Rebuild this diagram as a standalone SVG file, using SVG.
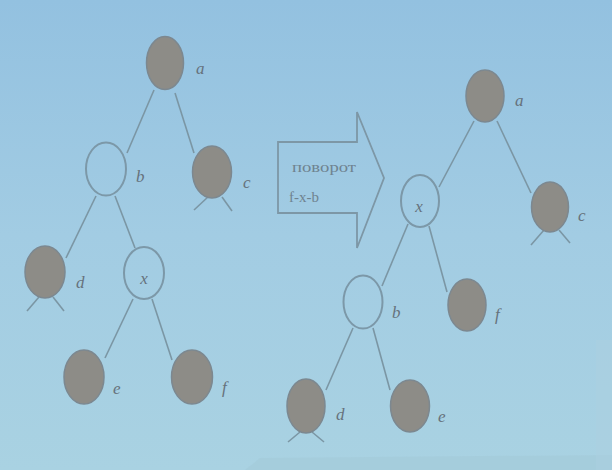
<svg xmlns="http://www.w3.org/2000/svg" width="612" height="470" viewBox="0 0 612 470">
<defs>
<linearGradient id="bg" x1="0" y1="0" x2="0" y2="1">
<stop offset="0" stop-color="#93c1e0"/>
<stop offset="0.5" stop-color="#a2cce3"/>
<stop offset="1" stop-color="#a9d2e2"/>
</linearGradient>
<style>
.fill{fill:#8d8c87;stroke:#7c8890;stroke-width:1.5}
.hollow{fill:none;stroke:#7c98a8;stroke-width:2}
.edge{stroke:#7b96a4;stroke-width:1.6;fill:none}
.lbl{font-family:"Liberation Serif",serif;font-style:italic;font-size:17px;fill:#66727c}
.arr{fill:none;stroke:#7d97a6;stroke-width:1.8}
.at{font-family:"Liberation Serif",serif;font-size:15px;fill:#6f8390}
</style>
</defs>
<rect width="612" height="470" fill="url(#bg)"/>
<polygon points="260,458 612,455 612,470 245,470" fill="#a3c9d9" opacity="0.6"/>
<rect x="596" y="340" width="16" height="130" fill="#acd0df" opacity="0.5"/>
<g id="connectors">
<line class="edge" x1="154" y1="90" x2="127" y2="153"/>
<line class="edge" x1="175" y1="93" x2="194" y2="153"/>
<line class="edge" x1="96" y1="196" x2="66" y2="258"/>
<line class="edge" x1="115" y1="196" x2="135" y2="248"/>
<line class="edge" x1="133" y1="299" x2="105" y2="358"/>
<line class="edge" x1="152" y1="299" x2="172" y2="360"/>
<line class="edge" x1="209" y1="196" x2="194" y2="210"/>
<line class="edge" x1="222" y1="197" x2="232" y2="211"/>
<line class="edge" x1="39" y1="297" x2="27" y2="311"/>
<line class="edge" x1="53" y1="297" x2="64" y2="311"/>
<line class="edge" x1="474" y1="121" x2="439" y2="187"/>
<line class="edge" x1="497" y1="121" x2="531" y2="193"/>
<line class="edge" x1="408" y1="224" x2="382" y2="286"/>
<line class="edge" x1="429" y1="226" x2="447" y2="292"/>
<line class="edge" x1="353" y1="328" x2="326" y2="390"/>
<line class="edge" x1="373" y1="328" x2="390" y2="390"/>
<line class="edge" x1="544" y1="230" x2="531" y2="245"/>
<line class="edge" x1="559" y1="230" x2="570" y2="243"/>
<line class="edge" x1="300" y1="432" x2="288" y2="442"/>
<line class="edge" x1="312" y1="432" x2="324" y2="442"/>
</g>
<g id="L_a"><ellipse class="fill" cx="165" cy="63" rx="18.5" ry="26.5"/><text class="lbl" x="196" y="74">a</text></g>
<g id="L_b"><ellipse class="hollow" cx="106" cy="169" rx="20" ry="26.5"/><text class="lbl" x="136" y="182">b</text></g>
<g id="L_c"><ellipse class="fill" cx="212" cy="172" rx="19.5" ry="26"/><text class="lbl" x="243" y="188">c</text></g>
<g id="L_d"><ellipse class="fill" cx="45" cy="272" rx="20" ry="26"/><text class="lbl" x="76" y="288">d</text></g>
<g id="L_x"><ellipse class="hollow" cx="144" cy="273" rx="20" ry="26"/><text class="lbl" x="144" y="284" text-anchor="middle">x</text></g>
<g id="L_e"><ellipse class="fill" cx="84" cy="377" rx="20" ry="27"/><text class="lbl" x="113" y="394">e</text></g>
<g id="L_f"><ellipse class="fill" cx="192" cy="377" rx="20.5" ry="27"/><text class="lbl" x="222" y="393">f</text></g>
<g id="arrow">
<polygon class="arr" points="278,142 357,142 357,112 384,178 357,248 357,213 278,213"/>
<text class="at" x="292" y="172" textLength="64" lengthAdjust="spacingAndGlyphs">поворот</text>
<text class="at" x="289" y="202">f-x-b</text>
</g>
<g id="R_a"><ellipse class="fill" cx="485" cy="96" rx="19" ry="26"/><text class="lbl" x="515" y="106">a</text></g>
<g id="R_x"><ellipse class="hollow" cx="420" cy="201" rx="19" ry="26"/><text class="lbl" x="419" y="212" text-anchor="middle">x</text></g>
<g id="R_c"><ellipse class="fill" cx="550" cy="207" rx="18.5" ry="25"/><text class="lbl" x="578" y="221">c</text></g>
<g id="R_b"><ellipse class="hollow" cx="363" cy="302" rx="19.5" ry="26.5"/><text class="lbl" x="392" y="318">b</text></g>
<g id="R_f"><ellipse class="fill" cx="467" cy="305" rx="19" ry="26"/><text class="lbl" x="495" y="320">f</text></g>
<g id="R_d"><ellipse class="fill" cx="306" cy="406" rx="19" ry="27"/><text class="lbl" x="336" y="420">d</text></g>
<g id="R_e"><ellipse class="fill" cx="410" cy="406" rx="19.5" ry="26"/><text class="lbl" x="438" y="422">e</text></g>
</svg>
